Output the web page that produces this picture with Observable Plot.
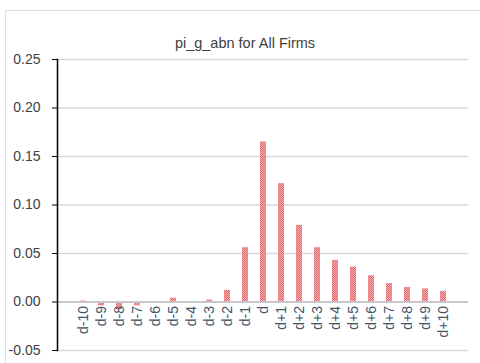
<!DOCTYPE html>
<html>
<head>
<meta charset="utf-8">
<script src="https://cdn.jsdelivr.net/npm/d3@7"></script>
<script src="https://cdn.jsdelivr.net/npm/@observablehq/plot@0.6"></script>
<style>
  html, body { margin: 0; padding: 0; background: #fff; }
  #wrap { position: relative; width: 480px; height: 363px; overflow: hidden; }
  #border { position: absolute; left: 5px; top: 10px; width: 500px; height: 400px; border: 1px solid #dedede; box-sizing: border-box; }
  #chart { position: absolute; left: 0; top: 0; }
</style>
</head>
<body>
<div id="wrap"><div id="border"></div><div id="chart"></div></div>
<script>
const title = "pi_g_abn for All Firms";
const categories = ["d-10","d-9","d-8","d-7","d-6","d-5","d-4","d-3","d-2","d-1","d","d+1","d+2","d+3","d+4","d+5","d+6","d+7","d+8","d+9","d+10"];
const values = [0.001,-0.004,-0.008,-0.004,0.0005,0.004,0.0,0.002,0.012,0.056,0.165,0.122,0.079,0.056,0.043,0.036,0.027,0.019,0.015,0.0135,0.011];
const yTicks = [-0.05,0,0.05,0.10,0.15,0.20,0.25];

const data = categories.map((c, i) => ({cat: c, v: values[i]}));

const plot = Plot.plot({
  width: 480,
  height: 363,
  marginLeft: 57,
  marginRight: 12,
  marginTop: 59,
  marginBottom: 13,
  style: {fontFamily: "'Liberation Sans', Arial, sans-serif", background: "transparent", fontSize: "14px"},
  x: {domain: categories, padding: 0.68, axis: null},
  y: {domain: [-0.05, 0.25], label: null},
  marks: [
    Plot.gridY(yTicks, {stroke: "#d9d9d9", strokeOpacity: 1, strokeWidth: 1.5}),
    Plot.barY(data, {x: "cat", y: "v", fill: "url(#chk)"}),
    Plot.ruleY([0], {stroke: "#c8c8c8", strokeWidth: 2}),
    Plot.axisY(yTicks, {label: null, tickFormat: d => d.toFixed(2), tickSize: 5, tickPadding: 12, fontSize: 14, color: "#404040", stroke: "#000"}),
    Plot.frame({anchor: "left", stroke: "#000", strokeWidth: 1.5}),
    Plot.text(data, {x: "cat", y: () => 0, text: "cat", rotate: -90, textAnchor: "end", dy: 4, fontSize: 14, fill: "#44546a"}),
    Plot.text([title], {frameAnchor: "top", dx: -18, dy: -22, fontSize: 14.5, fill: "#404040"})
  ]
});
const ns = "http://www.w3.org/2000/svg";
const defs = document.createElementNS(ns, "defs");
defs.innerHTML = '<pattern id="chk" width="2" height="2" patternUnits="userSpaceOnUse">' +
  '<rect width="2" height="2" fill="#e4676b"/>' +
  '<rect x="1" y="0" width="1" height="1" fill="#f3aeb0"/>' +
  '<rect x="0" y="1" width="1" height="1" fill="#f3aeb0"/></pattern>';
plot.insertBefore(defs, plot.firstChild);
document.getElementById("chart").appendChild(plot);
</script>
</body>
</html>
